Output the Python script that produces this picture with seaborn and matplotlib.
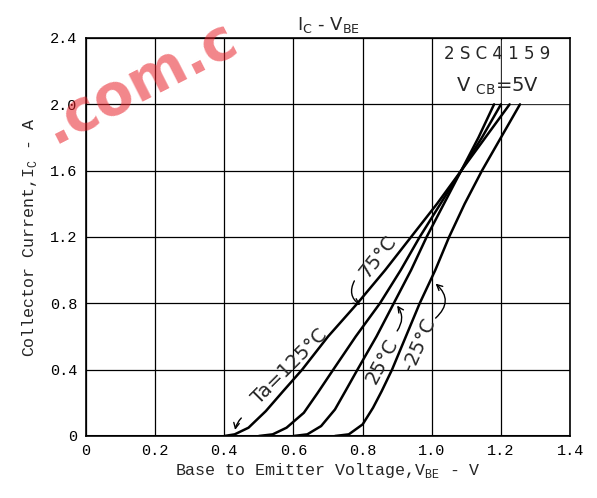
import matplotlib
matplotlib.use("Agg")
import matplotlib.pyplot as plt
import numpy as np
import pandas as pd
import seaborn as sb

# Curves (VBE in V, IC in A)
v_125 = [0.40, 0.43, 0.47, 0.52, 0.57, 0.625, 0.70, 0.785, 0.865, 0.94, 1.015, 1.085, 1.155, 1.225]
i_125 = [0.00, 0.01, 0.05, 0.15, 0.27, 0.40, 0.60, 0.80, 1.00, 1.20, 1.40, 1.60, 1.80, 2.00]
v_75 = [0.50, 0.54, 0.58, 0.63, 0.67, 0.715, 0.78, 0.85, 0.91, 0.965, 1.025, 1.085, 1.145, 1.20]
i_75 = [0.00, 0.01, 0.05, 0.14, 0.26, 0.40, 0.60, 0.80, 1.00, 1.20, 1.40, 1.60, 1.80, 2.00]
v_25 = [0.60, 0.64, 0.68, 0.72, 0.75, 0.785, 0.84, 0.89, 0.94, 0.985, 1.035, 1.085, 1.135, 1.18]
i_25 = [0.00, 0.01, 0.06, 0.16, 0.27, 0.40, 0.60, 0.80, 1.00, 1.20, 1.40, 1.60, 1.80, 2.00]
v_m25 = [0.72, 0.76, 0.80, 0.83, 0.855, 0.885, 0.925, 0.965, 1.01, 1.05, 1.095, 1.145, 1.20, 1.255]
i_m25 = [0.00, 0.01, 0.07, 0.17, 0.27, 0.40, 0.60, 0.80, 1.00, 1.20, 1.40, 1.60, 1.80, 2.00]

x_ticks = [0, 0.2, 0.4, 0.6, 0.8, 1.0, 1.2, 1.4]
x_labels = ['0', '0.2', '0.4', '0.6', '0.8', '1.0', '1.2', '1.4']
y_ticks = [0, 0.4, 0.8, 1.2, 1.6, 2.0, 2.4]
y_labels = ['0', '0.4', '0.8', '1.2', '1.6', '2.0', '2.4']

# Build long-form table
frames = []
for name, v, i in [('125', v_125, i_125), ('75', v_75, i_75),
                   ('25', v_25, i_25), ('-25', v_m25, i_m25)]:
    frames.append(pd.DataFrame({'vbe': v, 'ic': i, 'ta': name}))
df = pd.concat(frames, ignore_index=True)

sb.set_style('white')
plt.rcParams['font.family'] = ['Liberation Mono', 'DejaVu Sans Mono']
plt.rcParams['mathtext.fontset'] = 'custom'
plt.rcParams['mathtext.rm'] = 'Liberation Mono'

fig = plt.figure(figsize=(5.97, 4.98), dpi=100)
ax = fig.add_axes([0.144, 0.1245, 0.811, 0.7992])

sb.lineplot(data=df, x='vbe', y='ic', hue='ta', units='ta', estimator=None,
            palette=['black'] * 4, sort=False, legend=False, linewidth=1.8, ax=ax)

ax.set_xlim(0, 1.4)
ax.set_ylim(0, 2.4)
ax.set_xticks(x_ticks, labels=x_labels)
ax.set_yticks(y_ticks, labels=y_labels)
ax.tick_params(length=0, labelsize=11, pad=6, colors='black')
ax.grid(True, color='black', linewidth=0.9)
# the spec cell in the top right corner hides the 1.2 grid line
ax.fill_between([1.203, 1.397], 2.01, 2.39, color='white', zorder=1.5)
for s in ax.spines.values():
    s.set_color('black')
    s.set_linewidth(1.2)
ax.axhline(0, color='black', linewidth=2.2, zorder=3)

ax.set_xlabel(r'Base to Emitter Voltage,V$_\mathregular{BE}$ - V', fontsize=12, labelpad=2)
ax.set_ylabel(r'Collector Current,I$_\mathregular{C}$ - A', fontsize=12, labelpad=8)
ax.set_title(r'I$_\mathregular{C}$ - V$_\mathregular{BE}$', fontsize=13, pad=6, family='DejaVu Sans')

ax.text(1.19, 2.305, '2 S C 4 1 5 9', ha='center', va='center', fontsize=12,
        family='DejaVu Sans', zorder=4)
ax.text(1.19, 2.11, r'V $_\mathregular{CB}$=5V', ha='center', va='center', fontsize=14,
        family='DejaVu Sans', zorder=4)

# temperature labels
kw = dict(fontsize=14, family='DejaVu Sans', ha='center', va='center')
ax.text(0.59, 0.42, 'Ta=125°C', rotation=45, **kw)
ax.text(0.843, 1.08, '75°C', rotation=52, **kw)
ax.text(0.857, 0.45, '25°C', rotation=62, **kw)
ax.text(0.965, 0.55, '-25°C', rotation=66, **kw)

arrow = dict(arrowstyle='->', color='black', linewidth=1)
ax.annotate('', xy=(0.43, 0.02), xytext=(0.455, 0.12),
            arrowprops=dict(connectionstyle='arc3,rad=0.2', **arrow))
ax.annotate('', xy=(0.80, 0.78), xytext=(0.78, 0.95),
            arrowprops=dict(connectionstyle='arc3,rad=0.5', **arrow))
ax.annotate('', xy=(0.895, 0.80), xytext=(0.895, 0.62),
            arrowprops=dict(connectionstyle='arc3,rad=0.4', **arrow))
ax.annotate('', xy=(1.005, 0.93), xytext=(1.005, 0.70),
            arrowprops=dict(connectionstyle='arc3,rad=0.6', **arrow))

# watermark from the source scan
fig.text(0.235, 0.835, '.com.c', color='#e8222a', alpha=0.55, fontsize=41,
         fontweight='bold', family='DejaVu Sans', rotation=27, ha='center', va='center')

plt.savefig('out.png', dpi=100)
